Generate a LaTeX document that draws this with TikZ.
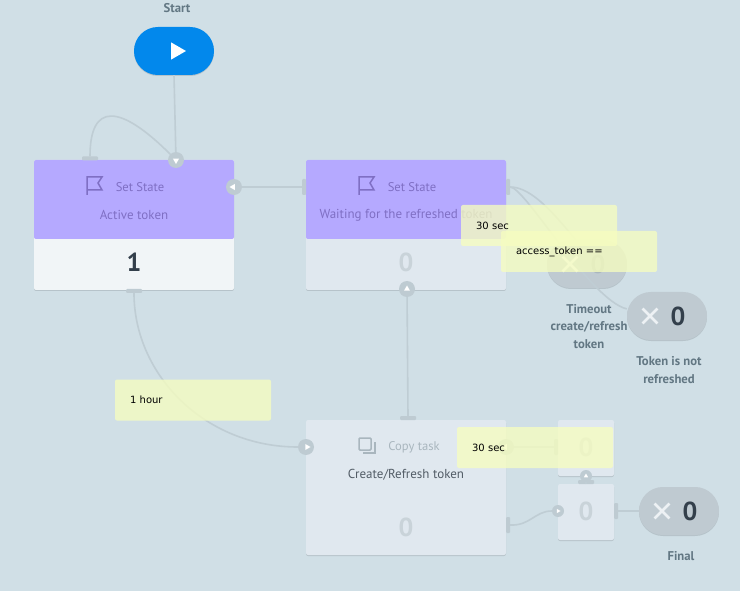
\documentclass[tikz,border=0pt]{standalone}
\usepackage{fontspec}
\setmainfont{PT Sans}
\newfontfamily\notefont{DejaVu Sans}
\usetikzlibrary{shapes.geometric}
\usetikzlibrary{shapes.misc}
\usetikzlibrary{shadows}
\definecolor{canvas}{HTML}{D0DFE6}
\definecolor{wire}{HTML}{BFCDD4}
\definecolor{portgrey}{HTML}{BECBD2}
\definecolor{startblue}{HTML}{0288EC}
\definecolor{header}{HTML}{B5A9FF}
\definecolor{headertext}{HTML}{7F6FC4}
\definecolor{activebody}{HTML}{F1F5F7}
\definecolor{idlebody}{HTML}{E0E8EF}
\definecolor{idlezero}{HTML}{C9D3D9}
\definecolor{pillgrey}{HTML}{BFCAD1}
\definecolor{crossgrey}{HTML}{EDF1F4}
\definecolor{darktext}{HTML}{333F4B}
\definecolor{labeltext}{HTML}{627783}
\definecolor{icongrey}{HTML}{A9B6BE}
\definecolor{notefill}{HTML}{F6FDC0}
\tikzset{
    every node/.style={inner sep=0pt},
    softshadow/.style={drop shadow={shadow xshift=0pt,shadow yshift=-1pt,opacity=.12,fill=black}},
    wireline/.style={draw=wire,line width=1.6pt}, % All connectors
    body/.style={ % Lower part of a block, or a whole faded block
        fill=#1,
        rounded corners=2pt,
        softshadow
    },
    head/.style={fill=header,rounded corners=2pt,minimum width=200pt,minimum height=79pt},
    pill/.style={ % Start and end points
        fill=#1,
        rounded corners=23.9pt,
        minimum width=80pt,
        minimum height=48pt,
        softshadow
    },
    port/.style={circle,fill=portgrey,minimum size=#1},
    port/.default=16pt,
    tip/.style={regular polygon,regular polygon sides=3,fill=white,minimum size=7pt,shape border rotate=#1},
    hbar/.style={fill=portgrey,rounded corners=1pt,minimum width=16pt,minimum height=4pt},
    vbar/.style={fill=portgrey,rounded corners=1pt,minimum width=4pt,minimum height=16pt},
    xmark/.style={cross out,draw=crossgrey,line width=2.8pt,minimum size=12pt},
    title/.style={font=\fontsize{12.6}{15}\selectfont,text=headertext},
    bigcount/.style={font=\fontsize{26}{28}\selectfont\bfseries,text=#1},
    caption/.style={font=\fontsize{12.7}{17.5}\selectfont\bfseries,text=labeltext,align=center},
    note/.style={ % Yellow comments, on top of everything
        fill=notefill,
        fill opacity=.78,
        text opacity=1,
        rounded corners=2pt,
        minimum height=41pt,
        text width=126pt,
        inner xsep=15pt,
        align=left,
        font=\notefont\fontsize{10}{12}\selectfont,
        text=black
    },
    flagicon/.pic={
        \draw[headertext,line width=1.5pt,line join=miter] (0,9) -- (0,-9) -- (15,-9) -- (11,-3) -- (15,4) -- (0,4);
    },
    copyicon/.pic={
        \draw[icongrey,line width=1.5pt,rounded corners=1pt] (-7,-8) rectangle (5,4);
        \draw[icongrey,line width=1.5pt] (9,-4) -- (9,7) -- (-3,7);
    }
}

\begin{document}
\begin{tikzpicture}[x=1pt,y=-1pt]
    \fill[canvas] (0,0) rectangle (740,591);
    \useasboundingbox (0,0) rectangle (740,591);

    % blocks
    \node[body=activebody,minimum width=200pt,minimum height=130pt] (active) at (134,225) {};
    \node[head] (activehead) at (134,199.5) {};
    \node[body=idlebody,minimum width=200pt,minimum height=130pt] (waiting) at (406,225) {};
    \node[head] (waitinghead) at (406,199.5) {};
    \node[body=idlebody,minimum width=200pt,minimum height=135pt] (copy) at (406,487.5) {};
    \node[body=idlebody,minimum size=56pt] (upper) at (586,448) {};
    \node[body=idlebody,minimum size=56pt] (lower) at (586,512) {};

    % end points
    \node[pill=startblue] (start) at (174,51) {};
    \node[pill=pillgrey] (timeout) at (587,264) {};
    \node[pill=pillgrey] (notrefreshed) at (667,316) {};
    \node[pill=pillgrey] (final) at (679,511) {};

    % ports
    \node[port] (activein) at (176,160) {};
    \node[port] (activeright) at (234,187) {};
    \node[hbar] (activetop) at (90,158.5) {};
    \node[hbar] (activeout) at (134,291) {};
    \node[vbar] (waitingin) at (304,187) {};
    \node[vbar] (waitingout) at (508,187) {};
    \node[port] (waitingbottom) at (407,289) {};
    \node[hbar] (copytop) at (408,418) {};
    \node[port] (copyin) at (306,447) {};
    \node[port] (copyright) at (506,447) {};
    \node[vbar] (copyout) at (508,525) {};
    \node[vbar] (upperin) at (556,447) {};
    \node[port=12pt] (lowerin) at (558,511) {};
    \node[port=12pt] (uppertip) at (586,476) {};
    \node[hbar] (lowertop) at (586,482) {};
    \node[vbar] (lowerout) at (616,511) {};

    % connectors
    \draw[wireline] (start.south) -- (activein);
    \draw[wireline] (activetop.north) .. controls (90,102) and (120,104) .. (activein);
    \draw[wireline] (waitingin) -- (activeright);
    \draw[wireline] (activeout.south) .. controls (134,375) and (205,447) .. (copyin);
    \draw[wireline] (copytop.north) -- (waitingbottom);
    \draw[wireline] (copyright) -- (upperin);
    \draw[wireline] (copyout.east) .. controls (530,526) and (535,511) .. (lowerin);
    \draw[wireline] (lowertop) -- (uppertip);
    \draw[wireline] (lowerout) -- (final);
    \draw[wireline] (waitingout.east) .. controls (532,187) and (555,215) .. (timeout.115);
    \draw[wireline] (waitingout.east) .. controls (525,187) and (590,300) .. (notrefreshed.170);

    % port and start triangles
    \node[tip=180] (activeintip) at (176,160.5) {};
    \node[tip=90] (activerighttip) at (233,187) {};
    \node[tip=0] (waitingbottomtip) at (407,289) {};
    \node[tip=-90] (copyintip) at (307,447) {};
    \node[tip=90] (copyrighttip) at (505,447) {};
    \node[tip=-90,minimum size=5pt] (lowerintip) at (558,511) {};
    \node[tip=0,minimum size=5pt] (uppertiptip) at (586,476) {};
    \node[tip=-90,minimum size=20pt] (starttip) at (176,51) {};

    % texts
    \node[caption] (startlabel) at (177,8.5) {Start};
    \pic at (87,186) {flagicon};
    \node[title] (activekind) at (140,187) {Set State};
    \node[title,font=\fontsize{13}{15}\selectfont] (activename) at (134,215) {Active token};
    \node[bigcount=darktext] (activecount) at (134,262.5) {1};
    \pic at (359,186) {flagicon};
    \node[title] (waitingkind) at (412,187) {Set State};
    \node[title,font=\fontsize{13}{15}\selectfont] (waitingname) at (406,215) {Waiting for the refreshed token};
    \node[bigcount=idlezero] (waitingcount) at (406,262.5) {0};
    \pic at (366,446) {copyicon};
    \node[title,text=icongrey] (copykind) at (414,447.5) {Copy task};
    \node[font=\fontsize{13}{15}\selectfont,text=darktext!85!white] (copyname) at (406,474.5) {Create/Refresh token};
    \node[bigcount=idlezero] (copycount) at (406,527.5) {0};
    \node[bigcount=idlezero] (uppercount) at (586,447.5) {0};
    \node[bigcount=idlezero] (lowercount) at (586,511.5) {0};

    \node[xmark] (timeoutx) at (570,264) {};
    \node[bigcount=icongrey] (timeoutcount) at (598,264) {0};
    \node[caption] (timeoutlabel) at (589,326.5) {Timeout\\create/refresh\\token};
    \node[xmark] (notrefreshedx) at (650,316) {};
    \node[bigcount=darktext] (notrefreshedcount) at (678,316) {0};
    \node[caption] (notrefreshedlabel) at (669,370) {Token is not\\refreshed};
    \node[xmark] (finalx) at (662,511) {};
    \node[bigcount=darktext] (finalcount) at (690,511) {0};
    \node[caption] (finallabel) at (681,556.5) {Final};

    % notes
    \node[note] (timeoutnote) at (539,225.5) {30 sec};
    \node[note] (tokennote) at (579,251.5) {access\_token ==};
    \node[note] (hournote) at (193,400) {1 hour};
    \node[note] (copynote) at (535,447.5) {30 sec};
\end{tikzpicture}
\end{document}
